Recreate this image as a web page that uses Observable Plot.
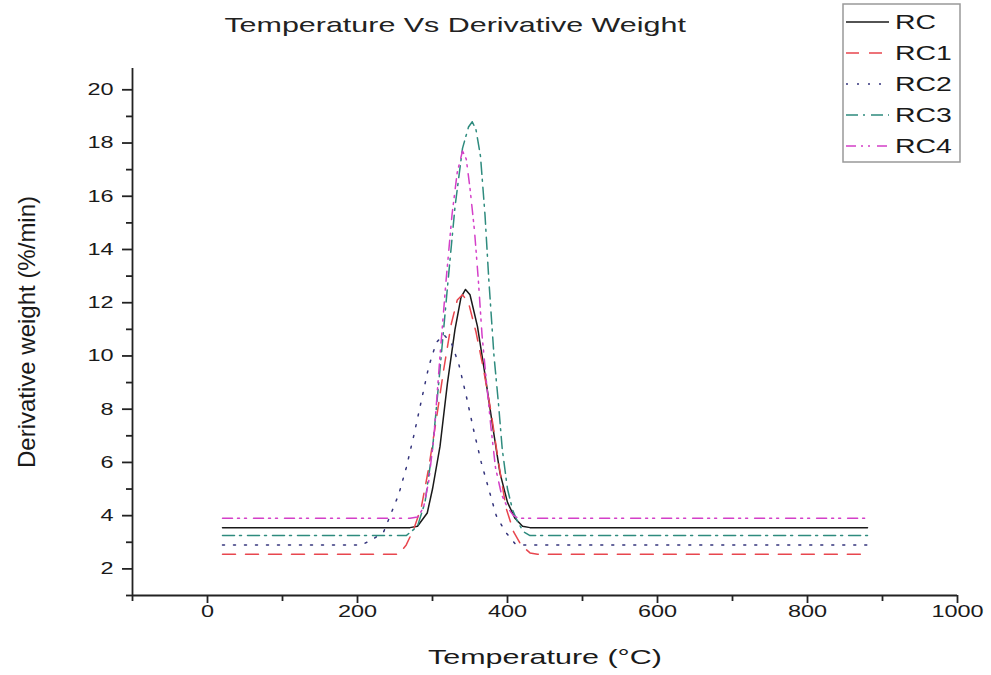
<!DOCTYPE html>
<html><head><meta charset="utf-8">
<script src="https://cdn.jsdelivr.net/npm/d3@7"></script>
<script src="https://cdn.jsdelivr.net/npm/@observablehq/plot@0.6"></script>
<style>
body{margin:0;background:#fff;font-family:"Liberation Sans",Arial,sans-serif;color:#222;}
#wrap{position:relative;width:991px;height:675px;}
#title{height:50px;width:910px;text-align:center;font-size:21px;line-height:50px;}
#title span{display:inline-block;transform:scaleX(1.45);transform-origin:center;}
#legend{position:absolute;left:0;top:0;}
</style></head><body>
<div id="wrap"><div id="title"><span>Temperature Vs Derivative Weight</span></div><div id="chart"></div><svg id="legend" width="991" height="200"></svg></div>
<script>
const seriesNames = ["RC", "RC1", "RC2", "RC3", "RC4"];
const seriesColors = ["#1a1a1a", "#e8464e", "#34347c", "#2e8b7e", "#d43fc8"];
const seriesDash = ["none", "13,10", "2,9", "12,5,2,6", "10,5,2,5,2,7"];

const tempRC  = [20, 270, 280, 293, 300, 310, 320, 330, 338, 344, 350, 360, 370, 380, 390, 400, 410, 420, 430, 880];
const valRC   = [3.55, 3.55, 3.6, 4.1, 5.0, 6.6, 9.0, 11.0, 12.2, 12.5, 12.3, 11.1, 9.3, 7.4, 5.6, 4.5, 3.9, 3.6, 3.55, 3.55];

const tempRC1 = [20, 255, 265, 275, 285, 295, 305, 315, 325, 333, 340, 348, 358, 368, 378, 388, 398, 408, 418, 430, 440, 880];
const valRC1  = [2.55, 2.55, 2.9, 3.5, 4.3, 5.8, 7.6, 9.5, 11.2, 12.1, 12.3, 12.0, 10.9, 9.5, 7.9, 6.0, 4.3, 3.4, 2.9, 2.6, 2.55, 2.55];

const tempRC2 = [20, 205, 220, 235, 245, 255, 265, 275, 285, 295, 305, 315, 325, 335, 345, 355, 365, 375, 385, 397, 410, 420, 880];
const valRC2  = [2.9, 2.9, 3.1, 3.4, 4.1, 4.8, 5.8, 7.0, 8.3, 9.6, 10.5, 10.8, 10.5, 9.7, 8.5, 7.2, 6.0, 5.0, 4.0, 3.4, 2.95, 2.9, 2.9];

const tempRC3 = [20, 265, 280, 290, 300, 310, 320, 330, 340, 348, 353, 358, 364, 370, 375, 382, 388, 393, 400, 407, 413, 421, 430, 880];
const valRC3  = [3.25, 3.25, 3.6, 4.5, 6.5, 9.5, 12.6, 15.6, 17.8, 18.6, 18.8, 18.5, 17.5, 15.3, 12.9, 10.0, 8.2, 6.5, 5.0, 4.2, 3.8, 3.4, 3.25, 3.25];

const tempRC4 = [20, 270, 280, 288, 295, 302, 310, 318, 326, 333, 340, 345, 350, 356, 361, 366, 372, 378, 384, 392, 400, 408, 415, 880];
const valRC4  = [3.9, 3.9, 3.95, 4.3, 5.3, 7.0, 10.0, 12.8, 15.3, 16.9, 17.7, 17.4, 16.3, 14.7, 12.9, 10.8, 9.0, 7.3, 5.8, 4.8, 4.3, 4.0, 3.9, 3.9];

const xMajorTicks = [0, 200, 400, 600, 800, 1000];
const xMinorTicks = [-100, 100, 300, 500, 700, 900];
const yMajorTicks = [2, 4, 6, 8, 10, 12, 14, 16, 18, 20];
const yMinorTicks = [1, 3, 5, 7, 9, 11, 13, 15, 17, 19];

const xTitle = "Temperature (°C)";
const yTitle = "Derivative weight (%/min)";

const temps = [tempRC, tempRC1, tempRC2, tempRC3, tempRC4];
const vals = [valRC, valRC1, valRC2, valRC3, valRC4];
const rows = seriesNames.map((name, i) => temps[i].map((t, j) => ({series: name, T: t, v: vals[i][j]})));

const font = "Liberation Sans, Arial, sans-serif";
const axisColor = "#222";
const chart = Plot.plot({
  width: 991,
  height: 625,
  marginLeft: 132,
  marginRight: 34,
  marginTop: 18,
  marginBottom: 80,
  x: {domain: [-100, 1000]},
  y: {domain: [1, 20.8]},
  style: {fontFamily: font, fontSize: "17px", color: "#1a1a1a", background: "white", overflow: "visible"},
  marks: [
    Plot.axisX(xMajorTicks, {tickSize: 8, tickPadding: 1, tickFormat: d => String(d), label: null, stroke: axisColor, strokeWidth: 1.8, fontSize: 17}),
    Plot.axisX(xMinorTicks, {tickSize: 6, tickFormat: () => "", label: null, stroke: axisColor, strokeWidth: 1.8}),
    Plot.axisY(yMajorTicks, {tickSize: 10, tickPadding: 9, tickFormat: d => String(d), label: null, stroke: axisColor, strokeWidth: 1.8, fontSize: 17}),
    Plot.axisY(yMinorTicks, {tickSize: 6, tickFormat: () => "", label: null, stroke: axisColor, strokeWidth: 1.8}),
    Plot.ruleX([-100], {stroke: axisColor, strokeWidth: 1.8}),
    Plot.ruleY([1], {stroke: axisColor, strokeWidth: 1.8}),
    Plot.text([xTitle], {frameAnchor: "bottom", dy: 68, fontSize: 21, fill: "#1a1a1a"}),
    Plot.text([yTitle], {frameAnchor: "left", textAnchor: "middle", dx: -105, rotate: -90, fontSize: 24, fill: "#1a1a1a"}),
    ...seriesNames.map((name, i) => Plot.line(rows[i], {
      x: "T", y: "v", stroke: seriesColors[i], strokeWidth: 1.5,
      strokeDasharray: seriesDash[i] === "none" ? null : seriesDash[i]
    }))
  ]
});
document.getElementById("chart").appendChild(chart);

// the reference figure is horizontally stretched: widen horizontal text glyphs
function stretch(el, k) {
  const len = el.getComputedTextLength();
  if (len > 0) {
    el.setAttribute("textLength", len * k);
    el.setAttribute("lengthAdjust", "spacingAndGlyphs");
  }
}
d3.select(chart).selectAll("text").each(function() {
  const t = this.textContent;
  if (t === yTitle) return;
  if (t.trim() !== "") stretch(this, t === xTitle ? 1.45 : 1.38);
});

// legend
const lg = d3.select("#legend");
lg.append("rect").attr("x", 843).attr("y", 4).attr("width", 117).attr("height", 158)
  .attr("fill", "none").attr("stroke", "#999").attr("stroke-width", 1.5);
seriesNames.forEach((name, i) => {
  const y = 22 + i * 31;
  lg.append("line").attr("x1", 846).attr("x2", 889).attr("y1", y).attr("y2", y)
    .attr("stroke", seriesColors[i]).attr("stroke-width", 1.5)
    .attr("stroke-dasharray", seriesDash[i] === "none" ? null : seriesDash[i]);
  const tx = lg.append("text").attr("x", 895).attr("y", y).attr("dy", "0.36em")
    .attr("font-family", font).attr("font-size", 20).attr("fill", "#1a1a1a").text(name);
  stretch(tx.node(), 1.42);
});
</script>
</body></html>
